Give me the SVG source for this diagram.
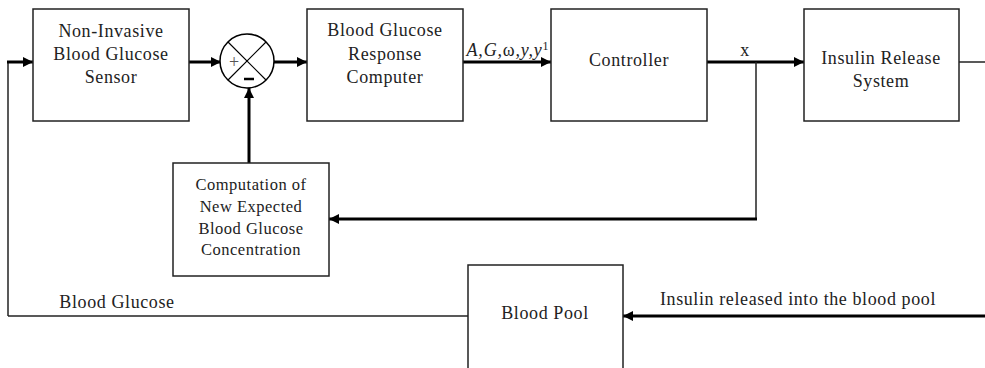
<svg xmlns="http://www.w3.org/2000/svg" width="985" height="368" viewBox="0 0 985 368">
<defs>
<marker id="ah" markerWidth="10" markerHeight="10" refX="10" refY="5" orient="auto" markerUnits="userSpaceOnUse">
<path d="M0,0 L10,5 L0,10 Z" fill="#000"/>
</marker>
<style>
.box{fill:#fff;stroke:#222;stroke-width:1.5}
.t{font-family:"Liberation Serif",serif;font-size:18px;letter-spacing:0.6px;fill:#222;text-anchor:middle}
.s{font-family:"Liberation Serif",serif;font-size:16.5px;letter-spacing:0.5px;fill:#222;text-anchor:middle}
.thick{fill:none;stroke:#000;stroke-width:3}
.thin{fill:none;stroke:#222;stroke-width:1.5}
</style>
</defs>
<rect width="985" height="368" fill="#fff"/>
<g id="connectors">
<path class="thin" d="M8,316 V62"/>
<path class="thick" d="M7,62 H33" marker-end="url(#ah)"/>
<path class="thick" d="M189,62 H221" marker-end="url(#ah)"/>
<path class="thick" d="M274,62 H307" marker-end="url(#ah)"/>
<path class="thick" d="M463,62 H551" marker-end="url(#ah)"/>
<path class="thick" d="M707,62 H804" marker-end="url(#ah)"/>
<path class="thin" d="M756,62 V219"/>
<path class="thick" d="M757,219 H329" marker-end="url(#ah)"/>
<path class="thick" d="M249,163 V88" marker-end="url(#ah)"/>
<path class="thin" d="M959,62 H985"/>
<path class="thick" d="M985,316 H623" marker-end="url(#ah)"/>
<path class="thin" d="M8,316 H468"/>
</g>
<g id="sensor">
<rect class="box" x="33" y="9" width="156" height="112"/>
<text class="t" x="111" y="37">Non-Invasive</text>
<text class="t" x="111" y="60">Blood Glucose</text>
<text class="t" x="111" y="83">Sensor</text>
</g>
<g id="summer">
<circle cx="247" cy="61" r="27" fill="#fff" stroke="#000" stroke-width="1.5"/>
<path d="M228,42 L266,80 M266,42 L228,80" stroke="#000" stroke-width="1.2"/>
<text x="234" y="68" font-family="Liberation Serif,serif" font-size="18" fill="#555" text-anchor="middle">+</text>
<path d="M244,79 H254" stroke="#000" stroke-width="2.5"/>
</g>
<g id="bgrc">
<rect class="box" x="307" y="9" width="156" height="112"/>
<text class="t" x="385" y="36">Blood Glucose</text>
<text class="t" x="385" y="60">Response</text>
<text class="t" x="385" y="83">Computer</text>
</g>
<text x="508" y="56" font-family="Liberation Serif,serif" font-size="18" letter-spacing="0.8" font-style="italic" fill="#222" text-anchor="middle">A,G,<tspan font-style="normal">ω</tspan>,y,y<tspan font-size="12" font-style="normal" dy="-6">1</tspan></text>
<g id="controller">
<rect class="box" x="551" y="9" width="156" height="112"/>
<text class="t" x="629" y="66">Controller</text>
</g>
<text class="t" x="745" y="56">x</text>
<g id="insulin">
<rect class="box" x="804" y="9" width="155" height="112"/>
<text class="t" x="881" y="64">Insulin Release</text>
<text class="t" x="881" y="87">System</text>
</g>
<g id="computation">
<rect class="box" x="173" y="163" width="156" height="113"/>
<text class="s" x="251" y="190">Computation of</text>
<text class="s" x="251" y="212">New Expected</text>
<text class="s" x="251" y="234">Blood Glucose</text>
<text class="s" x="251" y="255">Concentration</text>
</g>
<g id="bloodpool">
<rect class="box" x="468" y="265" width="155" height="110"/>
<text class="t" x="545" y="319">Blood Pool</text>
</g>
<text class="t" x="117" y="308">Blood Glucose</text>
<text class="t" x="798" y="305">Insulin released into the blood pool</text>
</svg>
